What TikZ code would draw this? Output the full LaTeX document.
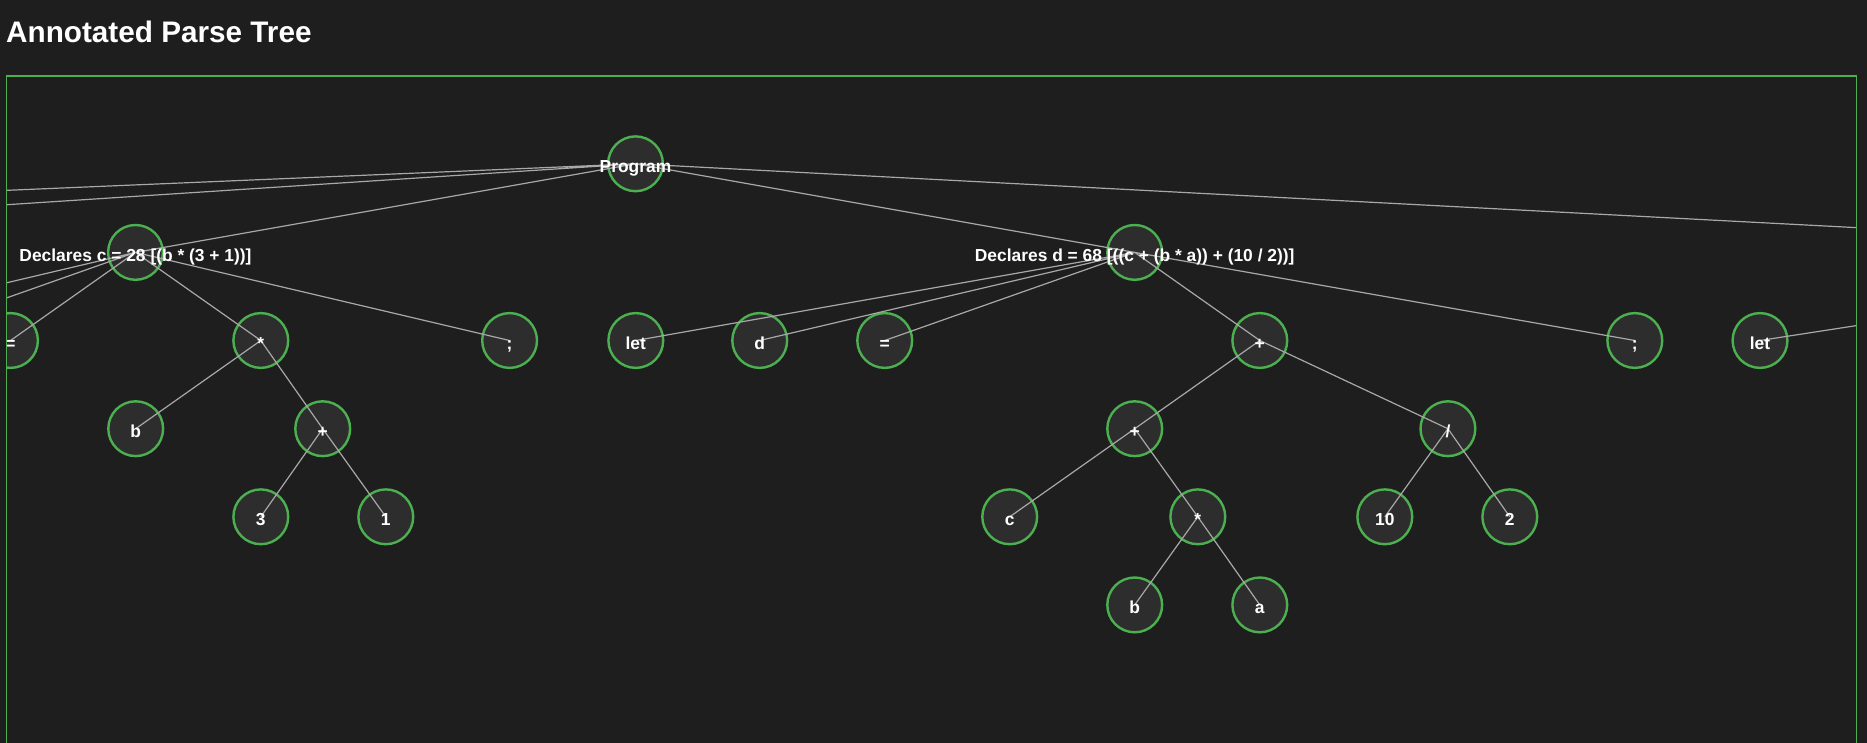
\documentclass[tikz,border=0pt]{standalone}
\usepackage{fontspec}
\setmainfont{Liberation Sans}
\usepackage{xcolor}
\definecolor{bgc}{HTML}{1E1E1E}
\definecolor{fillc}{HTML}{2D2D2D}
\definecolor{grn}{HTML}{4CAF50}
\definecolor{edgec}{HTML}{A8A8A8}
\begin{document}
\begin{tikzpicture}[x=1pt,y=-1pt]%
  \tikzstyle{cirn}=[circle,draw=grn,fill=fillc,line width=2.4pt,minimum size=54.8pt,inner sep=0]
  \tikzstyle{labn}=[text=white,font=\fontsize{17.4}{20}\selectfont\bfseries,anchor=base,inner sep=0]
  \tikzstyle{edgn}=[draw=edgec,line width=1.2pt]
  \useasboundingbox (0,0) rectangle (1867,743);
  \fill[bgc] (0,0) rectangle (1867,743);
  \node(title)[anchor=base west,inner sep=0,text=white,font=\fontsize{29.7}{36}\selectfont\bfseries] at (6,42.7) {Annotated Parse Tree};
  \begin{scope}
    \clip (6.5,76) rectangle (1856.3,760);
    \node(prog)[cirn] at (635.5,163.8) {};
    \node(declL1)[cirn] at (-1464,252.4) {};
    \node(declL2)[cirn] at (-726,252.4) {};
    \node(declc)[cirn] at (135.5,252.4) {};
    \node(decld)[cirn] at (1134.7,252.4) {};
    \node(declR)[cirn] at (2330,252.4) {};
    \node(letc)[cirn] at (-238,340.5) {};
    \node(idc)[cirn] at (-114,340.5) {};
    \node(eqc)[cirn] at (10.5,340.5) {};
    \node(mulc)[cirn] at (260.8,340.5) {};
    \node(semic)[cirn] at (509.6,340.5) {};
    \node(bc)[cirn] at (135.7,428.7) {};
    \node(plusc)[cirn] at (322.7,428.7) {};
    \node(threec)[cirn] at (260.8,516.8) {};
    \node(onec)[cirn] at (385.8,516.8) {};
    \node(letd)[cirn] at (635.8,340.5) {};
    \node(dd)[cirn] at (759.7,340.5) {};
    \node(eqd)[cirn] at (884.7,340.5) {};
    \node(plusd)[cirn] at (1259.8,340.5) {};
    \node(semid)[cirn] at (1634.8,340.5) {};
    \node(letR)[cirn] at (1760,340.5) {};
    \node(pluse)[cirn] at (1134.7,428.7) {};
    \node(divd)[cirn] at (1447.9,428.7) {};
    \node(cd)[cirn] at (1009.7,516.8) {};
    \node(muld)[cirn] at (1197.8,516.8) {};
    \node(tend)[cirn] at (1384.8,516.8) {};
    \node(twod)[cirn] at (1509.8,516.8) {};
    \node(bd)[cirn] at (1134.7,604.9) {};
    \node(ad)[cirn] at (1259.8,604.9) {};
    \path[edgn] (prog.center) -- (declL1.center) (prog.center) -- (declL2.center)
      (prog.center) -- (declc.center) (prog.center) -- (decld.center) (prog.center) -- (declR.center);
    \path[edgn] (declc.center) -- (letc.center) (declc.center) -- (idc.center) (declc.center) -- (eqc.center)
      (declc.center) -- (mulc.center) (declc.center) -- (semic.center)
      (mulc.center) -- (bc.center) (mulc.center) -- (plusc.center)
      (plusc.center) -- (threec.center) (plusc.center) -- (onec.center);
    \path[edgn] (decld.center) -- (letd.center) (decld.center) -- (dd.center) (decld.center) -- (eqd.center)
      (decld.center) -- (plusd.center) (decld.center) -- (semid.center)
      (plusd.center) -- (pluse.center) (plusd.center) -- (divd.center)
      (pluse.center) -- (cd.center) (pluse.center) -- (muld.center)
      (muld.center) -- (bd.center) (muld.center) -- (ad.center)
      (divd.center) -- (tend.center) (divd.center) -- (twod.center);
    \path[edgn] (declR.center) -- (letR.center);
    \node(progt)[labn] at ([yshift=-8.8pt]prog.center) {Program};
    \node(declct)[labn] at ([yshift=-8.8pt]declc.center) {Declares c = 28 [(b * (3 + 1))]};
    \node(decldt)[labn] at ([yshift=-8.8pt]decld.center) {Declares d = 68 [((c + (b * a)) + (10 / 2))]};
    \node(eqct)[labn] at ([yshift=-8.8pt]eqc.center) {=};
    \node(mulct)[labn] at ([yshift=-8.8pt]mulc.center) {*};
    \node(semict)[labn] at ([yshift=-8.8pt]semic.center) {;};
    \node(bct)[labn] at ([yshift=-8.8pt]bc.center) {b};
    \node(plusct)[labn] at ([yshift=-8.8pt]plusc.center) {+};
    \node(threect)[labn] at ([yshift=-8.8pt]threec.center) {3};
    \node(onect)[labn] at ([yshift=-8.8pt]onec.center) {1};
    \node(letdt)[labn] at ([yshift=-8.8pt]letd.center) {let};
    \node(ddt)[labn] at ([yshift=-8.8pt]dd.center) {d};
    \node(eqdt)[labn] at ([yshift=-8.8pt]eqd.center) {=};
    \node(plusdt)[labn] at ([yshift=-8.8pt]plusd.center) {+};
    \node(semidt)[labn] at ([yshift=-8.8pt]semid.center) {;};
    \node(letRt)[labn] at ([yshift=-8.8pt]letR.center) {let};
    \node(plusett)[labn] at ([yshift=-8.8pt]pluse.center) {+};
    \node(divdt)[labn] at ([yshift=-8.8pt]divd.center) {/};
    \node(cdt)[labn] at ([yshift=-8.8pt]cd.center) {c};
    \node(muldt)[labn] at ([yshift=-8.8pt]muld.center) {*};
    \node(tendt)[labn] at ([yshift=-8.8pt]tend.center) {10};
    \node(twodt)[labn] at ([yshift=-8.8pt]twod.center) {2};
    \node(bdt)[labn] at ([yshift=-8.8pt]bd.center) {b};
    \node(adt)[labn] at ([yshift=-8.8pt]ad.center) {a};
  \end{scope}
  \draw[grn,line width=1.2pt] (6.5,760) -- (6.5,76) -- (1856.3,76) -- (1856.3,760);
\end{tikzpicture}
\end{document}
